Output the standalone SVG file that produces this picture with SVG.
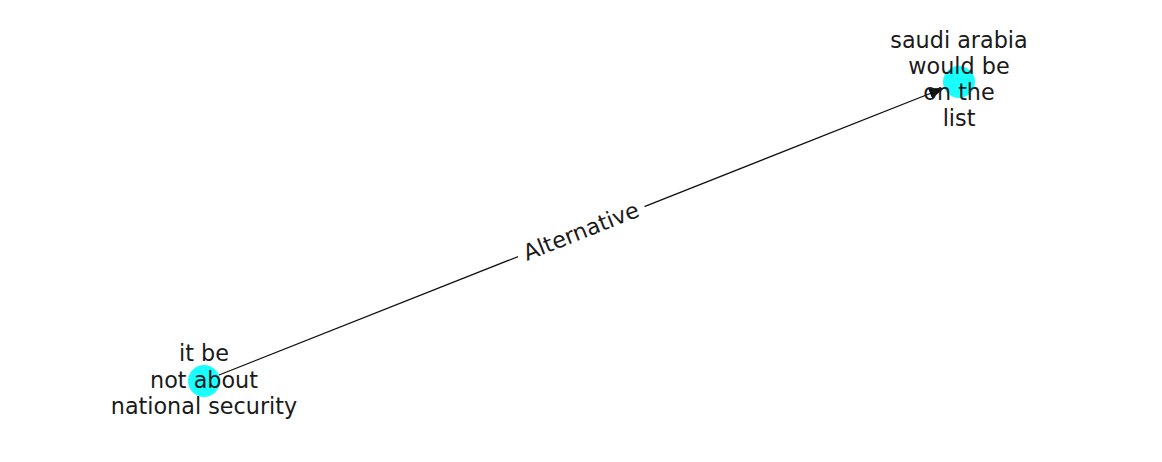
<svg xmlns="http://www.w3.org/2000/svg" width="1162" height="462" viewBox="0 0 1162 462">
<style>
.lbl{font-family:"DejaVu Sans",sans-serif;font-size:22.3px;fill:#1a1a1a;text-anchor:middle}
.node{fill:#00ffff;fill-opacity:0.9}
.edge{stroke:#111;stroke-width:1.3;fill:none}
</style>
<defs>
<marker id="arr" viewBox="0 0 10 10" refX="10" refY="5" markerWidth="15" markerHeight="15" markerUnits="userSpaceOnUse" orient="auto">
<path d="M0,1.2 L10,5 L0,8.8 Z" fill="#111"/>
</marker>
</defs>
<rect width="1162" height="462" fill="#fff"/>
<g id="n1">
<circle class="node" cx="204" cy="381" r="16"/>
</g>
<g id="n2">
<circle class="node" cx="959" cy="82" r="16"/>
</g>
<g id="connectors">
<line class="edge" x1="219" y1="375" x2="944" y2="88" marker-end="url(#arr)"/>
<g transform="translate(581,231) rotate(-21.6)">
<rect x="-68" y="-17" width="136" height="34" fill="#fff"/>
<text class="lbl" x="0" y="8">Alternative</text>
</g>
</g>
<g id="n1-label">
<text class="lbl"><tspan x="204" y="361">it be</tspan><tspan x="204" y="388">not about</tspan><tspan x="204" y="414">national security</tspan></text>
</g>
<g id="n2-label">
<text class="lbl"><tspan x="959" y="48">saudi arabia</tspan><tspan x="959" y="74">would be</tspan><tspan x="959" y="100">on the</tspan><tspan x="959" y="126">list</tspan></text>
</g>
</svg>
